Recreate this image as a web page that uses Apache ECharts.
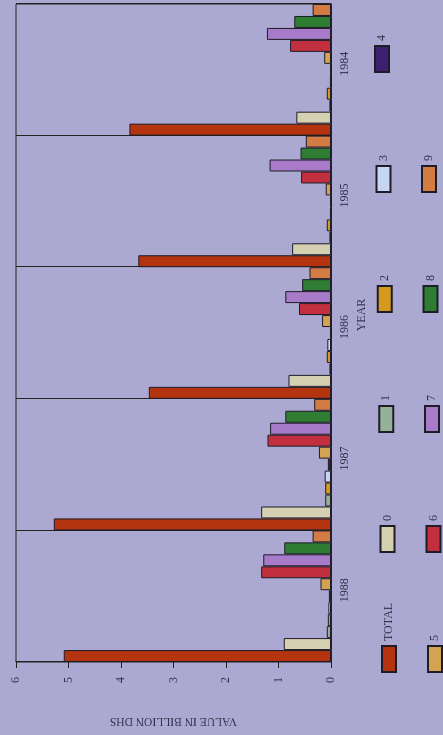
<!DOCTYPE html>
<html>
<head>
<meta charset="utf-8">
<script src="https://cdn.jsdelivr.net/npm/echarts@6/dist/echarts.min.js"></script>
<style>
  html, body { margin: 0; padding: 0; background: #aba8d2; overflow: hidden; }
  /* the page is photographed sideways, so the chart is drawn upright and turned */
  #main {
    position: absolute; left: 0; top: 0;
    width: 735px; height: 443px;
    transform-origin: 0 0;
    transform: translate(0, 735px) rotate(-90deg);
  }
</style>
</head>
<body>
<div id="main"></div>
<script>
// 数据 (billion DHS)
const years = ['1988', '1987', '1986', '1985', '1984'];
const seriesNames = ['TOTAL', '0', '1', '2', '3', '4', '5', '6', '7', '8', '9'];
const valueTicks = { min: 0, max: 6, interval: 1 };

const total = [5.09, 5.28, 3.47, 3.67, 3.84];
const sec0 = [0.90, 1.33, 0.81, 0.74, 0.66];
const sec1 = [0.08, 0.11, 0.03, 0.03, 0.03];
const sec2 = [0.06, 0.11, 0.08, 0.08, 0.08];
const sec3 = [0.05, 0.12, 0.07, 0.02, 0.02];
const sec4 = [0.04, 0.06, 0.01, 0.01, 0.01];
const sec5 = [0.20, 0.23, 0.17, 0.10, 0.13];
const sec6 = [1.33, 1.21, 0.61, 0.57, 0.78];
const sec7 = [1.29, 1.16, 0.87, 1.17, 1.22];
const sec8 = [0.89, 0.87, 0.55, 0.58, 0.70];
const sec9 = [0.35, 0.32, 0.41, 0.48, 0.35];

const allValues = [total, sec0, sec1, sec2, sec3, sec4, sec5, sec6, sec7, sec8, sec9];

const colors = ['#b3340f', '#d6d0b2', '#94b396', '#d49a1e', '#c6d6f2', '#3d2070',
                '#d3a352', '#c2303f', '#a77bc9', '#2f7c33', '#d27b43'];

const font = 'Liberation Serif';
const textColor = '#34304a';

const myChart = echarts.init(document.getElementById('main'));

// one small legend per entry, laid out on a fixed 6-column grid (two rows)
const legends = seriesNames.map((name, i) => {
  const row = i < 6 ? 0 : 1;
  const col = row === 0 ? i : i - 6;
  return {
    data: [name],
    left: 62 + col * 120,
    top: row === 0 ? 381 - col * 1.4 : 427 - col * 1.5,
    padding: 0,
    icon: 'rect',
    itemWidth: 26,
    itemHeight: 14,
    selectedMode: false,
    textStyle: { fontFamily: font, fontSize: 12, color: textColor }
  };
});

const option = {
  animation: false,
  backgroundColor: 'transparent',
  color: colors,
  legend: legends,
  grid: {
    left: 69,
    right: 4,
    top: 16,
    bottom: 112,
    show: true,
    borderColor: '#222',
    borderWidth: 1
  },
  xAxis: {
    type: 'category',
    data: years,
    name: 'YEAR',
    nameLocation: 'middle',
    nameGap: 24,
    nameTextStyle: { fontFamily: font, fontSize: 12, color: textColor, padding: [0, 0, 0, 36] },
    axisLine: { show: true, lineStyle: { color: '#222', width: 1 } },
    axisTick: { show: false },
    axisLabel: { fontFamily: font, fontSize: 12, color: textColor, margin: 8, padding: [0, 0, 0, 12] },
    splitLine: { show: true, lineStyle: { color: '#222', width: 1 } }
  },
  yAxis: {
    type: 'value',
    min: valueTicks.min,
    max: valueTicks.max,
    interval: valueTicks.interval,
    name: 'VALUE IN BILLION DHS',
    nameLocation: 'middle',
    nameGap: 53,
    nameTextStyle: { fontFamily: font, fontSize: 11.5, color: textColor },
    axisLine: { show: true, lineStyle: { color: '#222', width: 1 } },
    axisTick: { show: true, inside: false, length: 6, lineStyle: { color: '#222' } },
    axisLabel: { fontFamily: font, fontSize: 12, color: textColor, margin: 15 },
    splitLine: { show: false }
  },
  series: seriesNames.map((name, i) => ({
    name: name,
    type: 'bar',
    data: allValues[i],
    barGap: '0%',
    barCategoryGap: '0%',
    itemStyle: { color: colors[i], borderColor: '#1e1c26', borderWidth: 1 }
  }))
};

myChart.setOption(option);
</script>
</body>
</html>
